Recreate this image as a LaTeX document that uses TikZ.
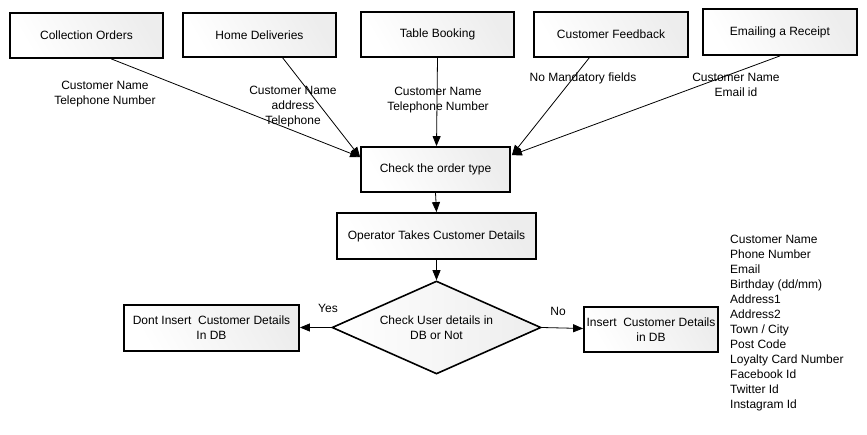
\documentclass[tikz,border=0pt]{standalone}
\usepackage{fontspec}
\setmainfont{Liberation Sans}
\usetikzlibrary{shapes.geometric,arrows.meta,calc,shadings}
\begin{document}
\begin{tikzpicture}[x=1pt,y=-1pt,
  every node/.style={font=\fontsize{12}{15}\selectfont, inner sep=0pt},
  box/.style={draw=black, line width=1.8pt, left color=white, right color=black!7, shading angle=120, align=center},
  dia/.style={draw=black, line width=1.6pt, diamond, aspect=2.25, minimum width=209pt, minimum height=93pt, left color=white, right color=black!7, align=center},
  lab/.style={align=center},
  conn/.style={draw=black, line width=0.8pt, -{Triangle[length=10pt,width=8pt]}}
]
\useasboundingbox (0,0) rectangle (867,435);
\fill[white] (0,0) rectangle (867,435);

\node[box, minimum width=153pt, minimum height=45pt] (co) at (86.5,35.5) {Collection Orders};
\node[box, minimum width=153pt, minimum height=44pt] (hd) at (259.5,35) {Home Deliveries};
\node[box, minimum width=153pt, minimum height=45pt] (tb) at (437.5,34.5) {Table Booking};
\node[box, minimum width=154pt, minimum height=45pt] (cf) at (611,34.5) {Customer Feedback};
\node[box, minimum width=154pt, minimum height=46pt] (er) at (780,32) {Emailing a Receipt};

\node[box, minimum width=149pt, minimum height=45pt] (chk) at (435.5,169.5) {Check the order type};
\node[box, minimum width=199pt, minimum height=46pt] (op) at (436.5,236) {Operator Takes Customer Details};
\node[dia] (dec) at (436.5,327.5) {Check User details in\\DB or Not};
\node[box, minimum width=175pt, minimum height=46pt] (no) at (211.5,328) {Dont Insert\ \ Customer Details\\In DB};
\node[box, minimum width=134pt, minimum height=45pt] (ins) at (651,329.5) {Insert\ \ Customer Details\\in DB};

\node[lab] (l1) at (105,94) {Customer Name\\Telephone Number};
\node[lab] (l2) at (293,106.5) {Customer Name\\address\\Telephone};
\node[lab] (l3) at (438,100.5) {Customer Name\\Telephone Number};
\node[lab] (l4) at (583,78) {No Mandatory fields};
\node[lab] (l5) at (736,84.5) {Customer Name\\Email id};
\node[lab] (yes) at (328,308) {Yes};
\node[lab] (nolab) at (558,311) {No};
\node[align=left, anchor=north west] (list) at (730,235) {Customer Name\\Phone Number\\Email\\Birthday (dd/mm)\\Address1\\Address2\\Town / City\\Post Code\\Loyalty Card Number\\Facebook Id\\Twitter Id\\Instagram Id};

\draw[conn] ($(co.south west)!0.66!(co.south east)$) -- ($(chk.north west)+(0,11)$);
\draw[conn] ($(hd.south west)!0.65!(hd.south east)$) -- ($(chk.north west)+(0,11)$);
\draw[conn] (tb.south) -- ($(chk.north)+(1,0)$);
\draw[conn] ($(cf.south west)!0.36!(cf.south east)$) -- ($(chk.north east)+(1,9)$);
\draw[conn] (er.south) -- ($(chk.north east)+(1,9)$);
\draw[conn] (chk.south) -- (op.north);
\draw[conn] (op.south) -- (dec.north);
\draw[conn] (dec.west) -- (no.east |- dec.west);
\draw[conn] (dec.east) -- ($(ins.west)+(0,-1)$);
\end{tikzpicture}
\end{document}
